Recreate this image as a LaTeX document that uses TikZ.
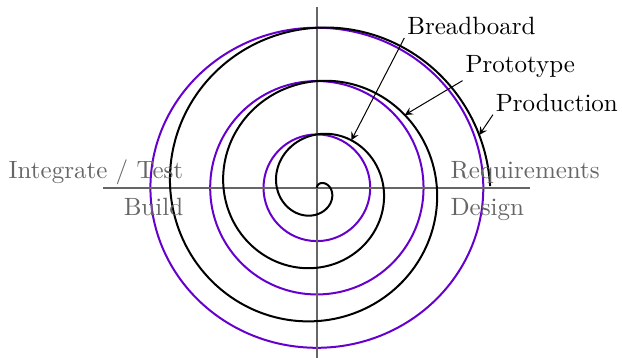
\documentclass[tikz,border=0pt]{standalone}
\usepackage{xcolor}
\usepackage{tikz}
\usetikzlibrary{arrows}

\definecolor{loopviolet}{RGB}{102,0,204}

\begin{document}
\begin{tikzpicture}[x=0.75cm, y=0.75cm, >=stealth]
    \tikzstyle{axis} = [semithick, black!60]
    \tikzstyle{phase} = [text=black!60, inner sep=1pt]
    \tikzstyle{loop} = [thick, loopviolet]
    \tikzstyle{spiral} = [thick, black]
    \tikzstyle{stage} = [inner sep=1pt, anchor=base west]
    \tikzstyle{arrow} = [thin,->]

    \useasboundingbox (-5.94,-3.19) rectangle (5.72,3.52);

    \coordinate (left) at (-4,0);
    \coordinate (right) at (4,0);
    \coordinate (bottom) at (0,-3.19);
    \coordinate (top) at (0,3.39);

    % iterations
    \foreach \r in {1,2}
        \draw[loop] (0,0) circle (\r);
    \draw[loop] (0,0) ellipse (3.12 and 3);

    \draw[axis] (left) -- (right);
    \draw[axis] (bottom) -- (top);

    \draw[spiral] plot[domain=0:3.25, samples=300, smooth] ({\x*cos(90-360*\x)}, {\x*sin(90-360*\x)});

    \node[phase, anchor=base east] (test) at (-2.45,0.17) {Integrate / Test};
    \node[phase, anchor=base east] (build) at (-2.45,-0.52) {Build};
    \node[phase, anchor=base west] (req) at (2.45,0.17) {Requirements};
    \node[phase, anchor=base west] (design) at (2.45,-0.52) {Design};

    \node[stage] (bb) at (1.64,2.87) {Breadboard};
    \node[stage] (proto) at (2.73,2.16) {Prototype};
    \node[stage] (prod) at (3.30,1.43) {Production};

    \coordinate (bbtip) at (54:1.1);
    \coordinate (prototip) at (39.6:2.14);
    \coordinate (prodtip) at (18:3.2);

    \draw[arrow] (bb.south west) -- (bbtip);
    \draw[arrow] (proto.south west) -- (prototip);
    \draw[arrow] (prod.south west) -- (prodtip);
\end{tikzpicture}
\end{document}
